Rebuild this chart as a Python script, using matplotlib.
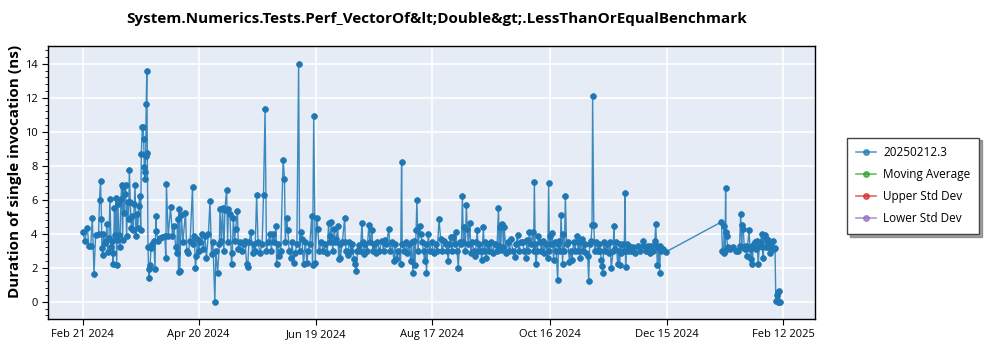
import numpy as np
import pandas as pd
import matplotlib
matplotlib.use('Agg')
import matplotlib.pyplot as plt
from matplotlib.lines import Line2D
from matplotlib.ticker import MultipleLocator
import matplotlib.dates as mdates

plt.rcParams['font.family'] = ['Open Sans', 'DejaVu Sans']

# (days since 2024-02-21, duration in ns)
start = pd.Timestamp('2024-02-21')

feb_apr = [(0.0, 4.1), (1.0, 3.6), (2.3, 4.35), (3.0, 3.3), (4.0, 3.3), (4.8, 4.9), (5.7, 1.65), (6.5, 3.95),
           (8.0, 4.0), (8.5, 6.0), (9.0, 7.1), (9.5, 4.85), (9.7, 3.15), (10.2, 2.75), (10.5, 4.0), (11.2, 3.45),
           (11.7, 3.55), (12.3, 4.55), (12.6, 2.95), (13.3, 3.75), (13.8, 6.05), (14.4, 3.25), (14.9, 3.6),
           (15.3, 2.25), (15.6, 2.85), (16.1, 5.5), (16.5, 3.95), (16.9, 6.1), (17.2, 2.15), (17.5, 3.65),
           (17.9, 5.75), (18.4, 3.95), (18.9, 3.25), (19.4, 6.05), (19.8, 6.85), (20.3, 3.65), (20.6, 6.75),
           (21.0, 5.25), (21.3, 6.35), (21.8, 6.85), (22.3, 3.9), (22.8, 5.85), (23.3, 4.85), (23.7, 7.75),
           (24.2, 5.85), (24.7, 4.35), (25.2, 5.05), (25.7, 4.25), (26.2, 5.75), (26.6, 6.85), (27.1, 3.85),
           (27.5, 5.15), (28.0, 4.35), (28.5, 5.65), (29.0, 6.25), (29.5, 4.25), (29.8, 8.7), (30.3, 10.3),
           (30.7, 10.25), (31.0, 9.6), (31.3, 7.95), (31.5, 7.65), (31.7, 7.25), (32.0, 8.6), (32.3, 11.65),
           (32.6, 13.55), (32.9, 8.75), (33.2, 3.25), (33.5, 1.95), (33.8, 1.4), (34.3, 2.15), (34.7, 3.15),
           (35.4, 3.4), (36.1, 3.6), (36.8, 1.95), (37.2, 5.05), (37.5, 4.15), (38.4, 3.55), (39.5, 3.75),
           (40.6, 3.8), (41.8, 3.85), (42.3, 2.55), (42.6, 6.9), (43.5, 3.85), (44.7, 5.55), (45.7, 3.85),
           (46.4, 4.45), (47.3, 3.25), (47.8, 2.85), (48.3, 4.85), (48.8, 1.75)]

apr_jun = [(49.0, 5.45), (49.4, 1.8), (50.2, 5.1), (51.0, 3.5), (52.3, 5.25), (53.0, 3.0), (53.7, 2.9), (54.7, 3.6),
           (55.9, 6.75), (56.4, 3.4), (56.8, 3.9), (57.4, 2.0), (57.9, 2.7), (58.4, 3.7), (59.1, 3.0), (59.9, 3.5),
           (60.5, 4.0), (61.4, 3.1), (62.2, 3.9), (63.0, 2.6), (64.0, 4.0), (64.8, 5.9), (65.6, 2.8), (66.3, 3.5),
           (67.3, 0.0), (67.8, 3.0), (68.7, 1.7), (69.6, 3.4), (69.9, 5.45), (70.6, 3.6), (71.2, 5.5), (71.9, 3.0),
           (72.4, 5.4), (73.3, 6.6), (73.8, 3.5), (74.2, 5.45), (75.0, 5.15), (75.8, 2.2), (76.2, 2.9), (76.7, 4.9),
           (77.4, 3.6), (77.9, 4.3), (78.8, 5.35), (79.3, 3.1), (80.1, 3.5), (81.1, 3.0), (82.2, 3.4), (82.7, 3.6),
           (83.5, 2.2), (84.0, 2.05), (84.7, 3.5), (85.7, 4.1), (86.5, 2.9), (87.0, 3.4), (87.8, 3.0), (88.6, 6.3),
           (89.3, 3.5), (90.3, 2.9), (91.4, 3.4), (92.1, 6.3), (92.9, 11.35), (93.6, 3.0), (94.4, 3.5), (95.5, 4.0),
           (96.1, 3.0), (96.8, 4.0), (97.5, 3.5), (98.5, 4.45), (98.8, 2.2), (99.6, 3.4), (100.1, 2.7),
           (100.9, 3.0), (102.1, 8.35), (102.8, 7.25), (103.2, 3.5), (103.9, 4.9), (104.5, 4.2), (105.2, 3.0),
           (106.0, 2.6), (106.7, 3.5), (107.5, 2.3), (108.3, 2.9), (109.1, 3.4), (110.0, 14.0), (110.5, 3.0),
           (111.3, 4.1), (111.7, 3.7), (112.5, 2.2), (113.4, 3.5), (114.2, 2.3), (114.9, 3.0), (115.7, 3.4),
           (116.7, 5.05), (117.1, 2.15), (117.7, 10.95), (118.5, 2.3), (119.3, 4.95), (119.8, 4.3), (120.5, 3.0)]

jun_sep = [(121.5, 3.5), (122.6, 3.0), (123.6, 3.4), (124.6, 2.9), (125.3, 4.65), (125.8, 3.5), (126.2, 3.9),
           (126.7, 4.7), (127.4, 3.0), (128.2, 4.3), (128.7, 3.5), (129.2, 3.7), (130.0, 4.45), (130.4, 2.5),
           (130.9, 3.4), (131.3, 2.6), (132.3, 3.5), (133.5, 4.95), (133.8, 3.5), (134.3, 3.0), (135.0, 2.75),
           (135.9, 3.5), (136.9, 3.0), (137.4, 3.4), (138.1, 2.5), (139.0, 2.2), (139.5, 1.8), (140.0, 3.0),
           (140.7, 3.35), (141.5, 3.0), (142.3, 4.65), (142.7, 3.5), (143.2, 2.8), (144.1, 3.4), (144.9, 3.0),
           (145.8, 4.5), (146.4, 3.5), (147.4, 4.25), (147.8, 3.0), (148.4, 3.4), (149.2, 2.9), (150.2, 3.5),
           (151.2, 3.0), (152.5, 3.6), (153.3, 3.0), (153.8, 3.65), (154.8, 3.4), (156.0, 4.3), (156.6, 3.0),
           (157.6, 3.5), (158.6, 2.4), (159.2, 3.4), (159.9, 2.5), (160.9, 3.0), (162.0, 2.2), (162.5, 8.25),
           (162.8, 3.4), (163.8, 3.0), (164.7, 3.5), (165.5, 2.9), (166.4, 3.4), (167.1, 2.4), (167.6, 3.5),
           (168.3, 1.7), (168.8, 3.6), (169.3, 2.15), (169.9, 4.2), (170.3, 6.0), (170.9, 3.0), (171.7, 4.45),
           (172.2, 4.0), (173.0, 3.5), (173.7, 3.0), (174.2, 2.4), (174.7, 3.4), (175.2, 1.7), (176.1, 4.0),
           (176.8, 3.0), (177.8, 3.5), (178.8, 2.9), (179.9, 3.4), (180.7, 3.0), (181.6, 4.85), (182.4, 3.7),
           (183.2, 3.0), (184.2, 3.6), (185.0, 3.4), (185.8, 3.0), (186.3, 2.4), (186.8, 3.4), (187.5, 3.8),
           (188.2, 3.0), (188.9, 3.8), (189.6, 3.4), (190.1, 4.1), (190.8, 3.0), (191.4, 2.0), (192.1, 3.5),
           (193.0, 3.4), (193.5, 6.25), (194.0, 3.5), (194.4, 4.4), (195.0, 3.0), (195.5, 5.7), (196.0, 4.3),
           (196.5, 3.4), (197.3, 4.65)]

sep_nov = [(197.8, 2.9), (198.6, 3.5), (199.3, 3.0), (200.0, 2.7), (200.6, 3.5), (201.1, 4.2), (201.6, 3.0),
           (202.1, 3.4), (202.9, 3.0), (203.4, 2.45), (204.2, 4.4), (204.7, 3.0), (205.2, 3.5), (205.7, 2.6),
           (206.5, 3.4), (207.2, 3.0), (208.0, 3.5), (209.0, 2.9), (210.0, 3.4), (211.1, 3.0), (211.9, 5.5),
           (212.3, 3.3), (212.6, 4.4), (213.1, 3.05), (213.4, 4.5), (213.9, 4.6), (214.4, 3.2), (214.8, 4.4),
           (215.7, 2.9), (216.7, 3.5), (217.5, 3.0), (218.2, 3.7), (219.2, 3.0), (220.3, 2.65), (221.0, 3.4),
           (221.6, 3.95), (222.3, 3.0), (223.3, 3.5), (224.2, 3.5), (224.9, 3.0), (225.9, 2.6), (226.4, 3.65),
           (227.1, 3.0), (227.6, 4.1), (228.5, 3.4), (229.3, 4.1), (229.8, 3.0), (230.2, 7.05), (230.6, 3.4),
           (231.0, 2.2), (231.7, 3.0), (232.3, 3.9), (233.1, 3.5), (233.8, 3.0), (234.4, 3.55), (235.1, 2.9),
           (236.0, 3.4), (237.0, 2.6), (237.5, 7.0), (237.9, 3.0), (238.2, 3.9), (238.7, 3.4), (239.2, 4.05),
           (240.0, 2.45), (240.5, 3.5), (241.3, 3.0), (242.1, 1.3), (242.5, 3.4), (243.0, 3.6), (243.4, 3.0),
           (243.8, 5.1), (244.6, 2.25), (245.0, 4.0), (245.5, 3.0), (246.0, 6.25), (246.6, 3.4), (247.2, 3.5),
           (248.1, 2.35), (248.7, 3.0), (249.4, 2.45), (250.2, 3.5), (250.9, 3.0), (251.8, 3.85), (252.6, 3.0),
           (253.2, 3.5), (253.7, 2.6), (254.3, 3.7), (255.1, 3.0), (255.8, 3.4), (256.6, 2.9), (257.4, 2.7),
           (257.9, 1.2), (258.4, 3.4), (259.1, 3.6), (259.6, 4.5), (259.9, 12.1), (260.5, 4.5), (261.0, 3.0),
           (261.7, 3.5), (262.5, 3.0), (263.2, 3.4), (263.8, 3.0), (264.3, 2.45), (264.6, 2.1), (265.1, 1.7),
           (265.5, 3.5), (266.3, 3.0), (267.1, 3.4), (268.0, 2.9), (268.8, 3.5), (269.4, 2.0)]

nov_dec = [(270.4, 3.0), (270.7, 4.45), (271.1, 3.1), (271.9, 3.5), (272.7, 2.2), (273.2, 3.0), (273.7, 2.15),
           (274.1, 3.4), (274.5, 2.9), (275.3, 3.4), (276.0, 3.0), (276.5, 6.4), (276.7, 2.05), (277.3, 3.4),
           (277.9, 3.0), (278.6, 3.3), (279.6, 3.0), (280.6, 3.2), (281.6, 2.9), (283.0, 3.3), (284.2, 3.0),
           (285.5, 3.6), (286.3, 3.3), (287.3, 3.0), (288.1, 3.3), (289.0, 2.9), (289.8, 3.3), (290.9, 3.0),
           (291.6, 3.6), (292.1, 4.55), (292.5, 3.3), (292.9, 2.15), (293.4, 3.2), (294.1, 1.7), (294.5, 3.3),
           (294.9, 3.0), (296.0, 3.1), (297.5, 2.95)]

jan_feb = [(325.6, 4.7), (326.1, 3.0), (326.7, 2.9), (327.0, 4.45), (327.4, 3.0), (327.7, 6.7), (327.9, 4.1),
           (328.2, 3.9), (328.7, 3.2), (329.7, 3.1), (331.3, 3.2), (332.8, 3.0), (334.1, 3.0), (334.8, 3.3),
           (335.4, 5.15), (335.9, 3.2), (336.2, 4.5), (336.7, 4.3), (337.2, 3.2), (337.6, 3.1), (338.1, 3.3),
           (338.4, 2.7), (338.9, 3.2), (339.6, 4.2), (340.2, 3.1), (340.7, 2.5), (341.0, 3.3), (341.3, 2.25),
           (341.8, 3.2), (342.2, 3.4), (342.7, 3.5), (343.3, 3.1), (343.8, 3.6), (344.3, 2.2), (344.9, 3.3),
           (345.5, 3.5), (346.1, 4.0), (346.5, 3.2), (346.9, 2.6), (347.3, 3.9), (347.8, 3.95), (348.2, 3.2),
           (348.6, 3.7), (349.2, 3.5), (349.5, 3.2), (350.0, 3.6), (350.4, 2.9), (351.0, 3.3), (351.7, 3.55),
           (352.2, 3.1), (352.9, 3.15), (353.3, 0.05), (353.8, 0.4), (354.3, 0.0), (354.6, 0.55), (354.9, 0.0),
           (355.1, 0.65), (355.5, 0.0)]

runs = feb_apr + apr_jun + jun_sep + sep_nov + nov_dec + jan_feb
days = np.array([r[0] for r in runs])
durations = np.array([r[1] for r in runs])
dates = start + pd.to_timedelta(days, unit='D')

tick_dates = ['2024-02-21', '2024-04-20', '2024-06-19', '2024-08-17', '2024-10-16', '2024-12-15', '2025-02-12']

series_names = ['20250212.3', 'Moving Average', 'Upper Std Dev', 'Lower Std Dev']
series_colors = ['#1f77b4', '#2ca02c', '#d62728', '#9467bd']

fig = plt.figure(figsize=(10, 3.5), dpi=100)
ax = fig.add_axes([0.048, 0.089, 0.767, 0.78])
ax.set_facecolor('#e5ecf6')

ax.plot(dates, durations, color=(0.12, 0.47, 0.71, 0.85), lw=1.0,
        marker='o', ms=4.2, mfc='#1f77b4', mec='#1f77b4', mew=0.5)

ax.grid(True, color='white', lw=1.2)
ax.set_axisbelow(True)

ax.set_xticks(pd.to_datetime(tick_dates))
ax.xaxis.set_major_formatter(mdates.DateFormatter('%b %d %Y'))
ax.set_ylim(-1, 15.05)
ax.yaxis.set_major_locator(MultipleLocator(2))
ax.yaxis.set_minor_locator(MultipleLocator(0.4))
ax.tick_params(axis='both', labelsize=8, length=4)
ax.tick_params(axis='y', which='minor', length=2.5)

for s in ax.spines.values():
    s.set_color('black')
    s.set_linewidth(1.0)

ax.set_ylabel('Duration of single invocation (ns)', fontsize=11, fontweight='bold')
ax.yaxis.set_label_coords(-0.034, 0.54)
fig.suptitle('System.Numerics.Tests.Perf_VectorOf&lt;Double&gt;.LessThanOrEqualBenchmark',
             fontsize=11, fontweight='bold', x=0.437, y=0.965)

handles = [Line2D([], [], color=c, lw=1.2, alpha=0.7, marker='o', ms=4, mfc=c, mec=c)
           for c in series_colors]
fig.legend(handles, series_names, loc='upper left', bbox_to_anchor=(0.847, 0.607),
           borderaxespad=0, fontsize=8.5, frameon=True, fancybox=False, shadow=True, edgecolor='#444444',
           borderpad=0.75, labelspacing=0.75, handlelength=1.7, handletextpad=0.6)

fig.savefig('out.png', dpi=100)
